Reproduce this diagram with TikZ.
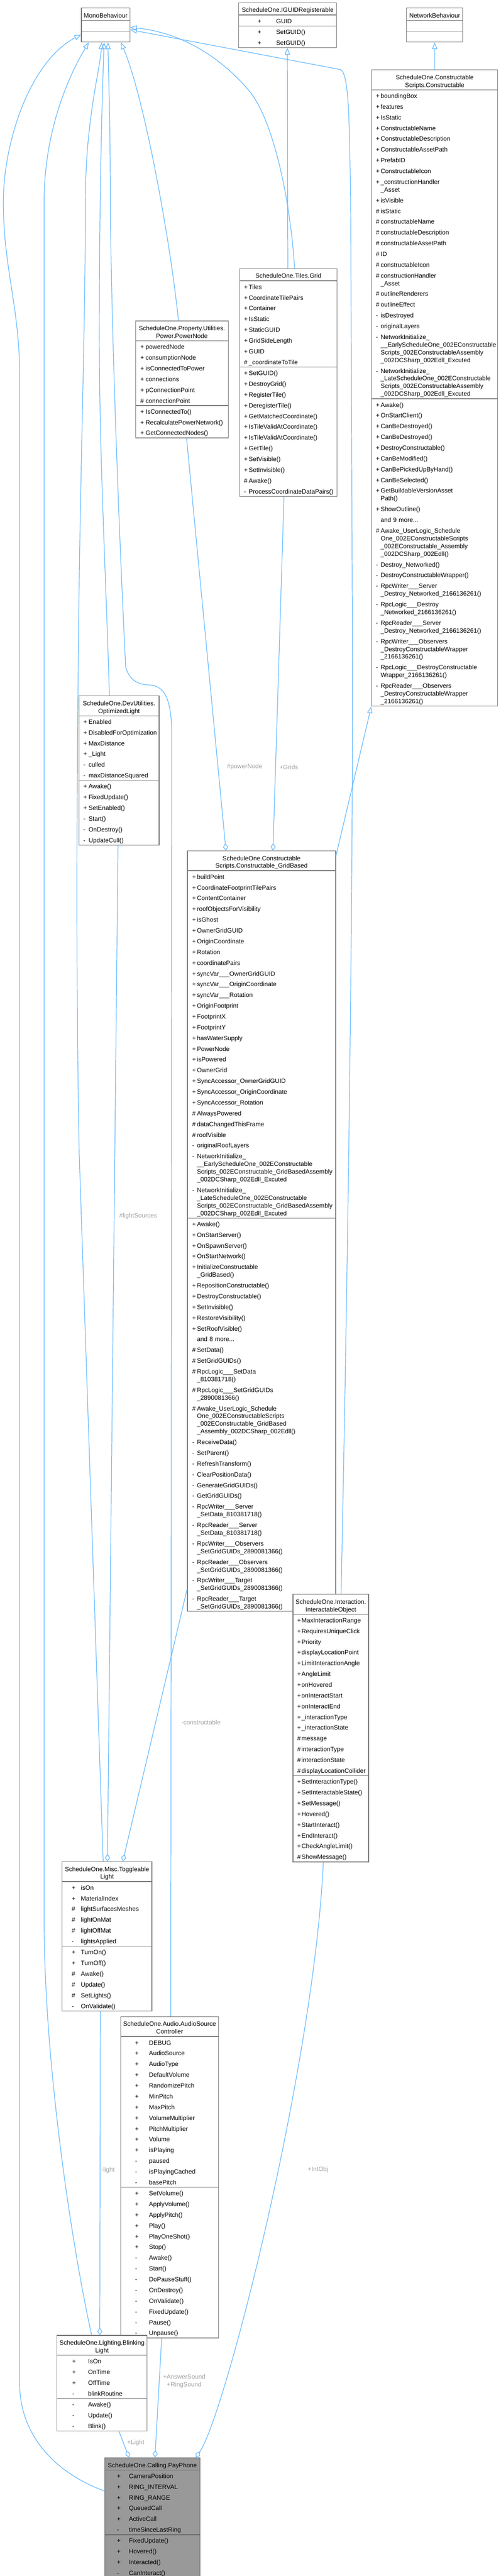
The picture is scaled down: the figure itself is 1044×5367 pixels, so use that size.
\documentclass[tikz,border=0pt]{standalone}
\usepackage{fontspec}
\setmainfont{Liberation Sans}
\usepackage{xcolor}
\usepackage{tikz}
\usetikzlibrary{positioning,shapes.multipart,arrows.meta}
\definecolor{edgeblue}{HTML}{63B8FF}
\definecolor{boxgray}{HTML}{7A7A7A}
\definecolor{paygray}{HTML}{999999}
\definecolor{paydark}{HTML}{666666}
\definecolor{lblgray}{HTML}{A0A0A0}
\newlength\mkpre
\newlength\mkcol
\newcommand\mem[2]{\leavevmode\hspace*{\mkpre}\makebox[\mkcol][l]{#1}#2\rule[-4.8pt]{0pt}{21.4pt}}
\newcommand\memc[1]{\leavevmode\hspace*{\mkpre}\hspace*{\mkcol}#1\rule[-4.8pt]{0pt}{16pt}}
\newcommand\ttlA[1]{\makebox[\linewidth][c]{\rule[-4.8pt]{0pt}{24pt}#1}}
\newcommand\ttlB[1]{\makebox[\linewidth][c]{\rule[-4.8pt]{0pt}{16pt}#1}}

\begin{document}
\catcode`\_=12
\lineskip=0pt
\begin{tikzpicture}[x=1pt, y=-1pt,
  cls/.style={rectangle split, rectangle split parts=3, draw=boxgray, line width=1.4pt, fill=white, align=left, inner xsep=4pt, inner ysep=0pt, anchor=north west, font=\fontsize{13}{16}\selectfont},
  cur/.style={cls, fill=paygray, draw=paydark},
  cols/.style 2 args={execute at begin node={\global\mkpre=#1pt\relax\global\mkcol=#2pt\relax}},
  inh/.style={draw=edgeblue, line width=1.3pt, -{Triangle[open, length=14pt, width=11pt]}},
  agg/.style={draw=edgeblue, line width=1.3pt, -{Diamond[open, length=15pt, width=10.5pt]}},
  lbl/.style={text=lblgray, font=\fontsize{13}{16}\selectfont, align=center, inner sep=0pt}]
\useasboundingbox (0,0) rectangle (1044,5367);

\node[cls, cols={0}{0}, text width=93pt] (mono) at (169,16) {\ttlA{MonoBehaviour}
\nodepart{two}\mem{}{}
\nodepart{three}\mem{}{}};

\node[cls, cols={35}{39}, text width=196pt] (iguid) at (497,5) {\ttlA{ScheduleOne.IGUIDRegisterable}
\nodepart{two}\mem{+}{GUID}
\nodepart{three}\mem{+}{SetGUID()}\\\mem{+}{SetGUID()}};

\node[cls, cols={0}{0}, text width=109pt] (netb) at (847,16) {\ttlA{NetworkBehaviour}
\nodepart{two}\mem{}{}
\nodepart{three}\mem{}{}};

\node[cls, cols={5}{10}, text width=255pt] (cons) at (774,145) {\ttlA{ScheduleOne.Constructable}\\\ttlB{Scripts.Constructable}
\nodepart{two}\mem{+}{boundingBox}\\\mem{+}{features}\\\mem{+}{IsStatic}\\\mem{+}{ConstructableName}\\\mem{+}{ConstructableDescription}\\\mem{+}{ConstructableAssetPath}\\\mem{+}{PrefabID}\\\mem{+}{ConstructableIcon}\\\mem{+}{_constructionHandler}\\\memc{_Asset}\\\mem{+}{isVisible}\\\mem{\#}{isStatic}\\\mem{\#}{constructableName}\\\mem{\#}{constructableDescription}\\\mem{\#}{constructableAssetPath}\\\mem{\#}{ID}\\\mem{\#}{constructableIcon}\\\mem{\#}{constructionHandler}\\\memc{_Asset}\\\mem{\#}{outlineRenderers}\\\mem{\#}{outlineEffect}\\\mem{-}{isDestroyed}\\\mem{-}{originalLayers}\\\mem{-}{NetworkInitialize_}\\\memc{__EarlyScheduleOne_002EConstructable}\\\memc{Scripts_002EConstructableAssembly}\\\memc{_002DCSharp_002Edll_Excuted}\\\mem{-}{NetworkInitialize_}\\\memc{_LateScheduleOne_002EConstructable}\\\memc{Scripts_002EConstructableAssembly}\\\memc{_002DCSharp_002Edll_Excuted}
\nodepart{three}\mem{+}{Awake()}\\\mem{+}{OnStartClient()}\\\mem{+}{CanBeDestroyed()}\\\mem{+}{CanBeDestroyed()}\\\mem{+}{DestroyConstructable()}\\\mem{+}{CanBeModified()}\\\mem{+}{CanBePickedUpByHand()}\\\mem{+}{CanBeSelected()}\\\mem{+}{GetBuildableVersionAsset}\\\memc{Path()}\\\mem{+}{ShowOutline()}\\\mem{}{and 9 more...}\\\mem{\#}{Awake_UserLogic_Schedule}\\\memc{One_002EConstructableScripts}\\\memc{_002EConstructable_Assembly}\\\memc{_002DCSharp_002Edll()}\\\mem{-}{Destroy_Networked()}\\\mem{-}{DestroyConstructableWrapper()}\\\mem{-}{RpcWriter___Server}\\\memc{_Destroy_Networked_2166136261()}\\\mem{-}{RpcLogic___Destroy}\\\memc{_Networked_2166136261()}\\\mem{-}{RpcReader___Server}\\\memc{_Destroy_Networked_2166136261()}\\\mem{-}{RpcWriter___Observers}\\\memc{_DestroyConstructableWrapper}\\\memc{_2166136261()}\\\mem{-}{RpcLogic___DestroyConstructable}\\\memc{Wrapper_2166136261()}\\\mem{-}{RpcReader___Observers}\\\memc{_DestroyConstructableWrapper}\\\memc{_2166136261()}};

\node[cls, cols={5}{10}, text width=195pt] (grid) at (499,559) {\ttlA{ScheduleOne.Tiles.Grid}
\nodepart{two}\mem{+}{Tiles}\\\mem{+}{CoordinateTilePairs}\\\mem{+}{Container}\\\mem{+}{IsStatic}\\\mem{+}{StaticGUID}\\\mem{+}{GridSideLength}\\\mem{+}{GUID}\\\mem{\#}{_coordinateToTile}
\nodepart{three}\mem{+}{SetGUID()}\\\mem{+}{DestroyGrid()}\\\mem{+}{RegisterTile()}\\\mem{+}{DeregisterTile()}\\\mem{+}{GetMatchedCoordinate()}\\\mem{+}{IsTileValidAtCoordinate()}\\\mem{+}{IsTileValidAtCoordinate()}\\\mem{+}{GetTile()}\\\mem{+}{SetVisible()}\\\mem{+}{SetInvisible()}\\\mem{\#}{Awake()}\\\mem{-}{ProcessCoordinateDataPairs()}};

\node[cls, cols={6}{11}, text width=185pt] (power) at (282,668) {\ttlA{ScheduleOne.Property.Utilities.}\\\ttlB{Power.PowerNode}
\nodepart{two}\mem{+}{poweredNode}\\\mem{+}{consumptionNode}\\\mem{+}{isConnectedToPower}\\\mem{+}{connections}\\\mem{+}{pConnectionPoint}\\\mem{\#}{connectionPoint}
\nodepart{three}\mem{+}{IsConnectedTo()}\\\mem{+}{RecalculatePowerNetwork()}\\\mem{+}{GetConnectedNodes()}};

\node[cls, cols={5}{11}, text width=159pt] (optl) at (164,1449) {\ttlA{ScheduleOne.DevUtilities.}\\\ttlB{OptimizedLight}
\nodepart{two}\mem{+}{Enabled}\\\mem{+}{DisabledForOptimization}\\\mem{+}{MaxDistance}\\\mem{+}{_Light}\\\mem{-}{culled}\\\mem{-}{maxDistanceSquared}
\nodepart{three}\mem{+}{Awake()}\\\mem{+}{FixedUpdate()}\\\mem{+}{SetEnabled()}\\\mem{-}{Start()}\\\mem{-}{OnDestroy()}\\\mem{-}{UpdateCull()}};

\node[cls, cols={6}{10}, text width=301pt] (gridb) at (390,1772) {\ttlA{ScheduleOne.Constructable}\\\ttlB{Scripts.Constructable_GridBased}
\nodepart{two}\mem{+}{buildPoint}\\\mem{+}{CoordinateFootprintTilePairs}\\\mem{+}{ContentContainer}\\\mem{+}{roofObjectsForVisibility}\\\mem{+}{isGhost}\\\mem{+}{OwnerGridGUID}\\\mem{+}{OriginCoordinate}\\\mem{+}{Rotation}\\\mem{+}{coordinatePairs}\\\mem{+}{syncVar___OwnerGridGUID}\\\mem{+}{syncVar___OriginCoordinate}\\\mem{+}{syncVar___Rotation}\\\mem{+}{OriginFootprint}\\\mem{+}{FootprintX}\\\mem{+}{FootprintY}\\\mem{+}{hasWaterSupply}\\\mem{+}{PowerNode}\\\mem{+}{isPowered}\\\mem{+}{OwnerGrid}\\\mem{+}{SyncAccessor_OwnerGridGUID}\\\mem{+}{SyncAccessor_OriginCoordinate}\\\mem{+}{SyncAccessor_Rotation}\\\mem{\#}{AlwaysPowered}\\\mem{\#}{dataChangedThisFrame}\\\mem{\#}{roofVisible}\\\mem{-}{originalRoofLayers}\\\mem{-}{NetworkInitialize_}\\\memc{__EarlyScheduleOne_002EConstructable}\\\memc{Scripts_002EConstructable_GridBasedAssembly}\\\memc{_002DCSharp_002Edll_Excuted}\\\mem{-}{NetworkInitialize_}\\\memc{_LateScheduleOne_002EConstructable}\\\memc{Scripts_002EConstructable_GridBasedAssembly}\\\memc{_002DCSharp_002Edll_Excuted}
\nodepart{three}\mem{+}{Awake()}\\\mem{+}{OnStartServer()}\\\mem{+}{OnSpawnServer()}\\\mem{+}{OnStartNetwork()}\\\mem{+}{InitializeConstructable}\\\memc{_GridBased()}\\\mem{+}{RepositionConstructable()}\\\mem{+}{DestroyConstructable()}\\\mem{+}{SetInvisible()}\\\mem{+}{RestoreVisibility()}\\\mem{+}{SetRoofVisible()}\\\mem{}{and 8 more...}\\\mem{\#}{SetData()}\\\mem{\#}{SetGridGUIDs()}\\\mem{\#}{RpcLogic___SetData}\\\memc{_810381718()}\\\mem{\#}{RpcLogic___SetGridGUIDs}\\\memc{_2890081366()}\\\mem{\#}{Awake_UserLogic_Schedule}\\\memc{One_002EConstructableScripts}\\\memc{_002EConstructable_GridBased}\\\memc{_Assembly_002DCSharp_002Edll()}\\\mem{-}{ReceiveData()}\\\mem{-}{SetParent()}\\\mem{-}{RefreshTransform()}\\\mem{-}{ClearPositionData()}\\\mem{-}{GenerateGridGUIDs()}\\\mem{-}{GetGridGUIDs()}\\\mem{-}{RpcWriter___Server}\\\memc{_SetData_810381718()}\\\mem{-}{RpcReader___Server}\\\memc{_SetData_810381718()}\\\mem{-}{RpcWriter___Observers}\\\memc{_SetGridGUIDs_2890081366()}\\\mem{-}{RpcReader___Observers}\\\memc{_SetGridGUIDs_2890081366()}\\\mem{-}{RpcWriter___Target}\\\memc{_SetGridGUIDs_2890081366()}\\\mem{-}{RpcReader___Target}\\\memc{_SetGridGUIDs_2890081366()}};

\node[cls, cols={5}{9}, text width=150pt] (inter) at (610,3321) {\ttlA{ScheduleOne.Interaction.}\\\ttlB{InteractableObject}
\nodepart{two}\mem{+}{MaxInteractionRange}\\\mem{+}{RequiresUniqueClick}\\\mem{+}{Priority}\\\mem{+}{displayLocationPoint}\\\mem{+}{LimitInteractionAngle}\\\mem{+}{AngleLimit}\\\mem{+}{onHovered}\\\mem{+}{onInteractStart}\\\mem{+}{onInteractEnd}\\\mem{+}{_interactionType}\\\mem{+}{_interactionState}\\\mem{\#}{message}\\\mem{\#}{interactionType}\\\mem{\#}{interactionState}\\\mem{\#}{displayLocationCollider}
\nodepart{three}\mem{+}{SetInteractionType()}\\\mem{+}{SetInteractableState()}\\\mem{+}{SetMessage()}\\\mem{+}{Hovered()}\\\mem{+}{StartInteract()}\\\mem{+}{EndInteract()}\\\mem{+}{CheckAngleLimit()}\\\mem{\#}{ShowMessage()}};

\node[cls, cols={16}{19}, text width=179pt] (toggle) at (129,3878) {\ttlA{ScheduleOne.Misc.Toggleable}\\\ttlB{Light}
\nodepart{two}\mem{+}{isOn}\\\mem{+}{MaterialIndex}\\\mem{\#}{lightSurfacesMeshes}\\\mem{\#}{lightOnMat}\\\mem{\#}{lightOffMat}\\\mem{-}{lightsApplied}
\nodepart{three}\mem{+}{TurnOn()}\\\mem{+}{TurnOff()}\\\mem{\#}{Awake()}\\\mem{\#}{Update()}\\\mem{\#}{SetLights()}\\\mem{-}{OnValidate()}};

\node[cls, cols={26}{29}, text width=196pt] (audio) at (251,4201) {\ttlA{ScheduleOne.Audio.AudioSource}\\\ttlB{Controller}
\nodepart{two}\mem{+}{DEBUG}\\\mem{+}{AudioSource}\\\mem{+}{AudioType}\\\mem{+}{DefaultVolume}\\\mem{+}{RandomizePitch}\\\mem{+}{MinPitch}\\\mem{+}{MaxPitch}\\\mem{+}{VolumeMultiplier}\\\mem{+}{PitchMultiplier}\\\mem{+}{Volume}\\\mem{+}{isPlaying}\\\mem{-}{paused}\\\mem{-}{isPlayingCached}\\\mem{-}{basePitch}
\nodepart{three}\mem{+}{SetVolume()}\\\mem{+}{ApplyVolume()}\\\mem{+}{ApplyPitch()}\\\mem{+}{Play()}\\\mem{+}{PlayOneShot()}\\\mem{+}{Stop()}\\\mem{-}{Awake()}\\\mem{-}{Start()}\\\mem{-}{DoPauseStuff()}\\\mem{-}{OnDestroy()}\\\mem{-}{OnValidate()}\\\mem{-}{FixedUpdate()}\\\mem{-}{Pause()}\\\mem{-}{Unpause()}};

\node[cls, cols={28}{33}, text width=180pt] (blink) at (118,4865) {\ttlA{ScheduleOne.Lighting.Blinking}\\\ttlB{Light}
\nodepart{two}\mem{+}{IsOn}\\\mem{+}{OnTime}\\\mem{+}{OffTime}\\\mem{-}{blinkRoutine}
\nodepart{three}\mem{-}{Awake()}\\\mem{-}{Update()}\\\mem{-}{Blink()}};

\node[cur, cols={21}{25}, text width=190pt] (pay) at (218,5120) {\ttlA{ScheduleOne.Calling.PayPhone}
\nodepart{two}\mem{+}{CameraPosition}\\\mem{+}{RING_INTERVAL}\\\mem{+}{RING_RANGE}\\\mem{+}{QueuedCall}\\\mem{+}{ActiveCall}\\\mem{-}{timeSinceLastRing}
\nodepart{three}\mem{+}{FixedUpdate()}\\\mem{+}{Hovered()}\\\mem{+}{Interacted()}\\\mem{-}{CanInteract()}};

\draw[inh] ([shift={(0,70)}]pay.north west) .. controls (110,5150) and (41,5070) .. (41,4966) -- (41,783) .. controls (41,640) and (7,560) .. (7,420) .. controls (7,300) and (60,130) .. ([shift={(0,56)}]mono.north west);
\draw[inh] ([shift={(73,0)}]blink.north west) .. controls (150,4680) and (92,4300) .. (92,4000) -- (92,420) .. controls (92,250) and (160,130) .. ([shift={(16,0)}]mono.south west);
\draw[inh] ([shift={(86,0)}]toggle.north west) -- (165,2400) .. controls (158,2000) and (160,1700) .. (163,1400) .. controls (166,1000) and (178,700) .. (178,420) .. controls (178,250) and (208,150) .. ([shift={(43,0)}]mono.south west);
\draw[inh] ([shift={(64,0)}]optl.north west) .. controls (221,1200) and (207,950) .. (207,700) .. controls (207,400) and (213,200) .. ([shift={(48,0)}]mono.south west);
\draw[inh] ([shift={(105,0)}]audio.north west) -- (358,1520) .. controls (356,1450) and (340,1428) .. (310,1427) .. controls (280,1426) and (268,1410) .. (262,1390) .. controls (250,1150) and (232,700) .. (230,420) .. controls (230,250) and (226,150) .. ([shift={(56,0)}]mono.south west);
\draw[inh] ([shift={(90,0)}]power.north west) .. controls (355,500) and (300,200) .. ([shift={(83,0)}]mono.south west);
\draw[inh] ([shift={(115,0)}]grid.north west) .. controls (606,420) and (570,250) .. (520,190) .. controls (480,142) and (400,70) .. ([shift={(0,41)}]mono.north east);
\draw[inh] ([shift={(101,0)}]inter.north west) .. controls (722,2800) and (735,2000) .. (735,1400) -- (731,420) .. controls (728,250) and (728,155) .. (710,145) -- ([shift={(0,46)}]mono.north east);
\draw[inh] ([shift={(101,0)}]grid.north west) -- ([shift={(102,0)}]iguid.south west);
\draw[inh] (cons.north) -- (netb.south);
\draw[inh] ([shift={(0,11)}]gridb.north east) -- (cons.south west);

\draw[agg] ([shift={(107,0)}]power.south west) -- ([shift={(81,0)}]gridb.north west);
\draw[agg] ([shift={(93,0)}]grid.south west) -- ([shift={(179,0)}]gridb.north west);
\draw[agg] ([shift={(82,0)}]optl.south west) -- ([shift={(95,0)}]toggle.north west);
\draw[agg] ([shift={(0,-47)}]gridb.south west) -- ([shift={(127,0)}]toggle.north west);
\draw[agg] ([shift={(80,0)}]toggle.south west) -- ([shift={(90,0)}]blink.north west);
\draw[agg] ([shift={(130,0)}]blink.south west) -- ([shift={(51,0)}]pay.north west);
\draw[agg] ([shift={(86,0)}]audio.south west) -- ([shift={(105,0)}]pay.north west);
\draw[agg] ([shift={(64,0)}]inter.south west) .. controls (655,4300) and (470,5030) .. ([shift={(-9,0)}]pay.north east);

\node[lbl] (lpower) at (510,1598) {\#powerNode};
\node[lbl] (lgrids) at (602,1598) {+Grids};
\node[lbl] (llights) at (288,2534) {\#lightSources};
\node[lbl] (lcons) at (419,3588) {-constructable};
\node[lbl] (llight) at (225,4521) {-light};
\node[lbl] (lintobj) at (663,4520) {+IntObj};
\node[lbl] (lsound) at (384,4961) {+AnswerSound\\+RingSound};
\node[lbl] (lblink) at (283,5089) {+Light};
\end{tikzpicture}
\end{document}
